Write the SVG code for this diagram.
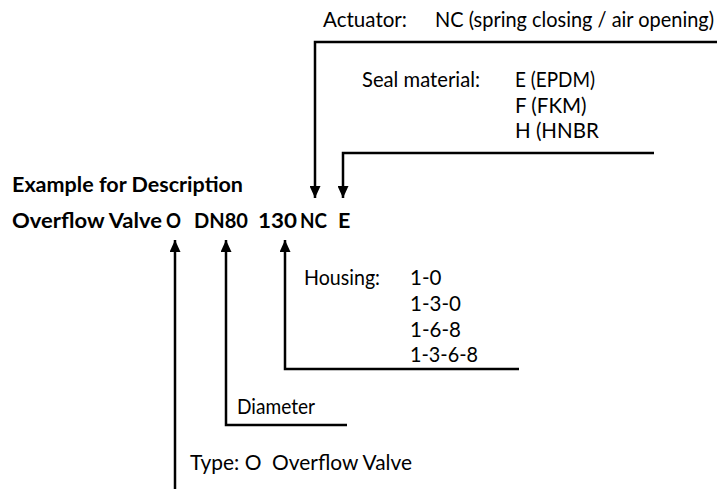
<svg xmlns="http://www.w3.org/2000/svg" width="728" height="489" viewBox="0 0 728 489">
<defs>
<marker id="arr" viewBox="0 0 10 12" refX="10" refY="6" markerWidth="12" markerHeight="11" markerUnits="userSpaceOnUse" orient="auto" preserveAspectRatio="none">
<path d="M0,0 L10,6 L0,12 z" fill="#000"/>
</marker>
</defs>
<style>
text{font-family:Lato,"Open Sans","Liberation Sans",sans-serif;font-size:20.5px;fill:#000}
.b{font-weight:bold;font-size:21.5px}
.c{fill:none;stroke:#000;stroke-width:2.5}
</style>
<rect width="728" height="489" fill="#fff"/>
<g id="title">
<text class="b" x="12" y="192" textLength="231" lengthAdjust="spacingAndGlyphs">Example for Description</text>
<text class="b" x="12" y="228" textLength="150" lengthAdjust="spacingAndGlyphs">Overflow Valve</text>
<text class="b" x="166" y="228" textLength="15" lengthAdjust="spacingAndGlyphs">O</text>
<text class="b" x="194" y="228" textLength="54" lengthAdjust="spacingAndGlyphs">DN80</text>
<text class="b" x="258" y="228" textLength="39" lengthAdjust="spacingAndGlyphs">130</text>
<text class="b" x="300" y="228" textLength="27" lengthAdjust="spacingAndGlyphs">NC</text>
<text class="b" x="338" y="228">E</text>
</g>
<g id="actuator">
<text x="323" y="27" textLength="84" lengthAdjust="spacingAndGlyphs">Actuator:</text>
<text x="435" y="27" textLength="279" lengthAdjust="spacingAndGlyphs">NC (spring closing / air opening)</text>
</g>
<g id="seal">
<text x="362" y="87" textLength="118" lengthAdjust="spacingAndGlyphs">Seal material:</text>
<text x="515" y="87" textLength="80" lengthAdjust="spacingAndGlyphs">E (EPDM)</text>
<text x="515" y="113">F (FKM)</text>
<text x="515" y="138">H (HNBR</text>
</g>
<g id="housing">
<text x="304" y="285" textLength="76" lengthAdjust="spacingAndGlyphs">Housing:</text>
<text x="410" y="285">1-0</text>
<text x="410" y="311">1-3-0</text>
<text x="410" y="337">1-6-8</text>
<text x="410" y="362" textLength="68" lengthAdjust="spacingAndGlyphs">1-3-6-8</text>
</g>
<g id="diameter">
<text x="237" y="414" textLength="78" lengthAdjust="spacingAndGlyphs">Diameter</text>
</g>
<g id="type">
<text x="190" y="470" xml:space="preserve" textLength="222" lengthAdjust="spacingAndGlyphs">Type: O  Overflow Valve</text>
</g>
<g id="connectors">
<path class="c" d="M717,42 H315 V198" marker-end="url(#arr)"/>
<path class="c" d="M654,153 H343 V198" marker-end="url(#arr)"/>
<path class="c" d="M519,369 H285 V240" marker-end="url(#arr)"/>
<path class="c" d="M347,425 H226 V240" marker-end="url(#arr)"/>
<path class="c" d="M175,489 V240" marker-end="url(#arr)"/>
</g>
</svg>
